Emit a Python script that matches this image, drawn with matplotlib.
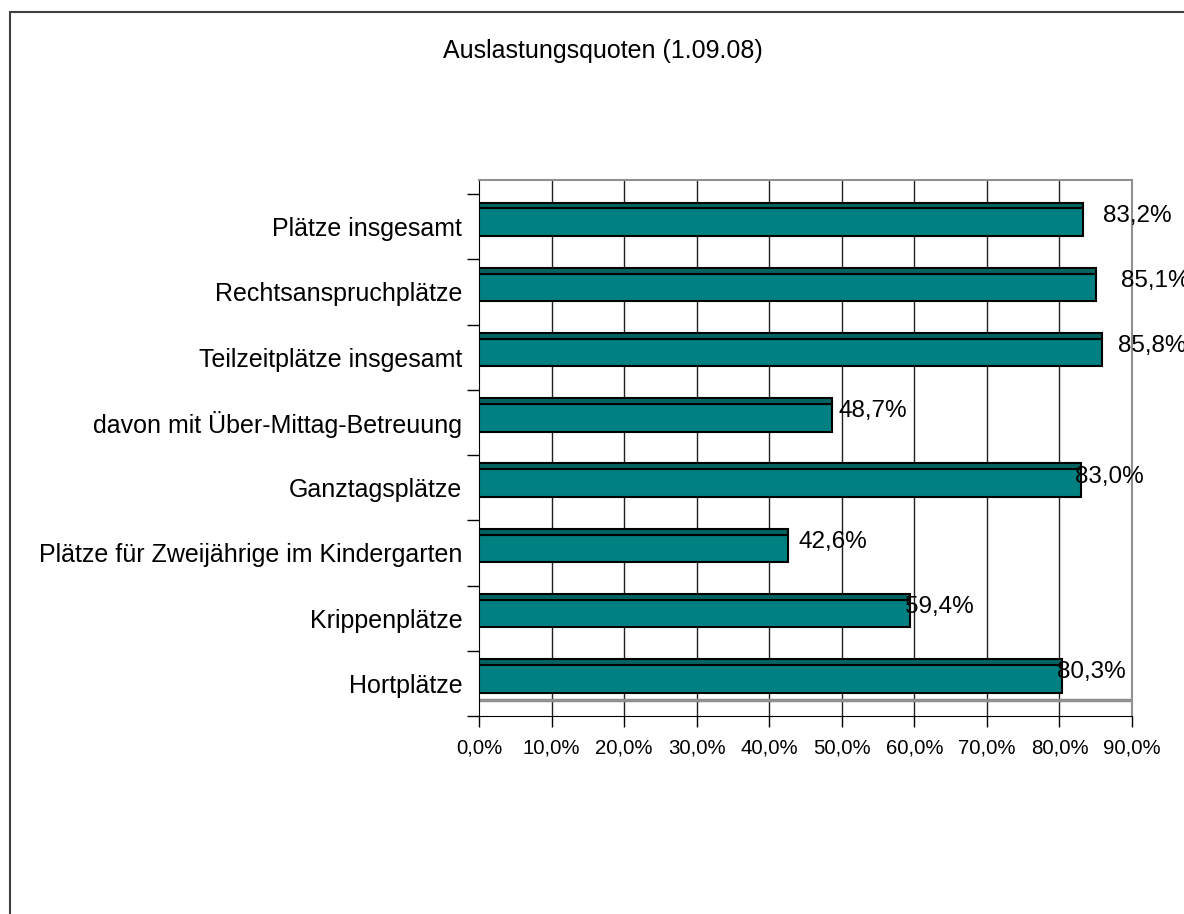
import matplotlib
matplotlib.use("Agg")
import matplotlib.pyplot as plt
from matplotlib.patches import Rectangle

plt.rcParams['font.family'] = ['Liberation Sans', 'DejaVu Sans']

# data
title = "Auslastungsquoten (1.09.08)"
categories = [
    "Plätze insgesamt",
    "Rechtsanspruchplätze",
    "Teilzeitplätze insgesamt",
    "davon mit Über-Mittag-Betreuung",
    "Ganztagsplätze",
    "Plätze für Zweijährige im Kindergarten",
    "Krippenplätze",
    "Hortplätze",
]
values = [83.2, 85.1, 85.8, 48.7, 83.0, 42.6, 59.4, 80.3]
x_ticks = [0, 10, 20, 30, 40, 50, 60, 70, 80, 90]

# label nudges in pixels (Excel placed the labels rather unevenly)
label_nudge = [20, 25, 16, 6, -6, 10, -5, -5]

W, H = 1184, 914
fig = plt.figure(figsize=(W / 100, H / 100), dpi=100)

# outer chart border (runs off the right and bottom edge)
fig.patches.append(Rectangle((10 / W, -0.1), 1.2, 1 - 12 / H + 0.1,
                             transform=fig.transFigure, fill=False,
                             edgecolor='#404040', linewidth=1.5))

ax = fig.add_axes([479 / W, (H - 716) / H, 653 / W, 536 / H])

fig.text(603 / W, 1 - 51 / H, title, ha='center', va='center', fontsize=18)

ypos = list(range(len(categories)))
face_color = '#008080'
top_color = '#006361'

# front face and the darker 3D top strip
ax.barh([y - 0.07 for y in ypos], values, height=0.42, left=0,
        color=face_color, edgecolor='black', linewidth=1.5, zorder=3)
ax.barh([y - 0.325 for y in ypos], values, height=0.09, left=0,
        color=top_color, edgecolor='black', linewidth=1.5, zorder=3)

for y, v, dx in zip(ypos, values, label_nudge):
    ax.annotate(f"{v:.1f}%".replace('.', ','), (v, y - 0.17),
                xytext=(dx, 0), textcoords='offset pixels',
                ha='left', va='center', fontsize=17.5, zorder=5,
                annotation_clip=False)

ax.set_xlim(0, 90)
ax.set_ylim(7.5, -0.715)

# grid lines on the back wall
for x in x_ticks[1:-1]:
    ax.axvline(x, color='#202020', linewidth=1, zorder=1)
# floor back edge
ax.axhline(7.255, color='#909090', linewidth=2.5, zorder=2)

ax.set_xticks(x_ticks)
ax.set_xticklabels([f"{t:.1f}%".replace('.', ',') for t in x_ticks], fontsize=14.7)
ax.tick_params(axis='x', direction='out', length=8, width=1, pad=8)

ax.set_yticks(ypos)
ax.set_yticklabels(categories, fontsize=18)
ax.set_yticks([y - 0.5 for y in ypos] + [7.5], minor=True)
ax.tick_params(axis='y', which='major', length=0, pad=12)
ax.tick_params(axis='y', which='minor', direction='out', length=9, width=1)

ax.spines['top'].set_color('#909090')
ax.spines['right'].set_color('#909090')
ax.spines['top'].set_linewidth(1.5)
ax.spines['right'].set_linewidth(1.5)
ax.spines['left'].set_color('black')
ax.spines['bottom'].set_color('black')

fig.savefig('out.png', dpi=100)
